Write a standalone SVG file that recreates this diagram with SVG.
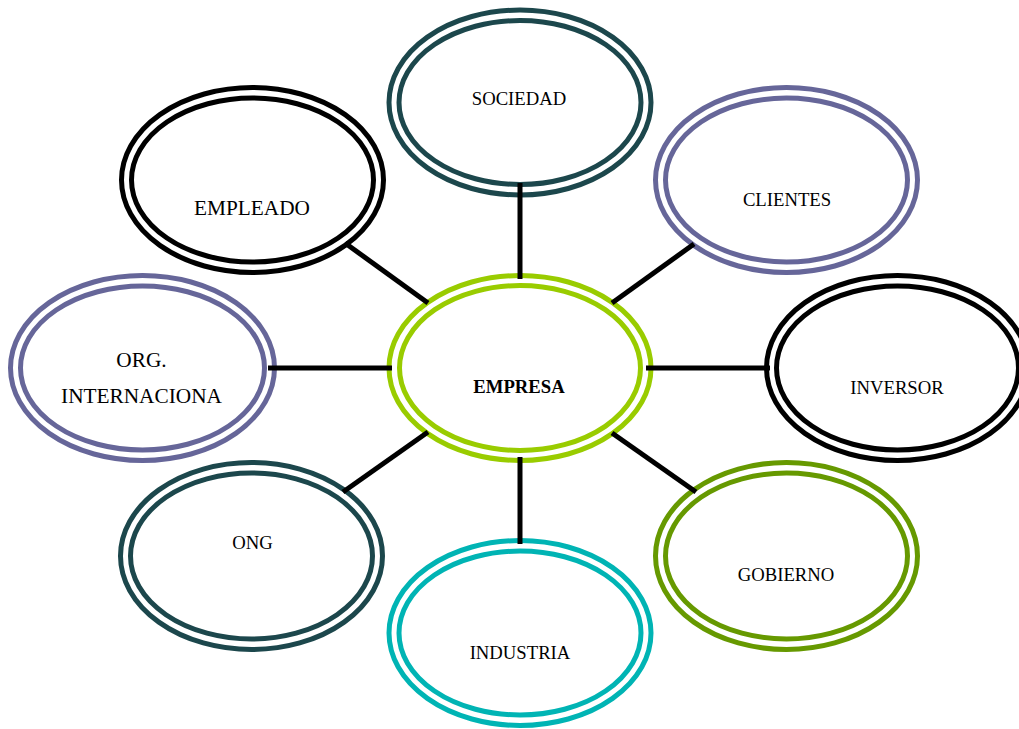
<svg xmlns="http://www.w3.org/2000/svg" width="1019" height="729" viewBox="0 0 1019 729">
<style>
.o{fill:#fff;stroke-width:5}
.i{fill:none;stroke-width:5}
.t{font-family:"Liberation Serif","Times New Roman",serif;font-size:18.7px;fill:#000;text-anchor:middle}
.tl{font-size:21.3px}
.b{font-weight:bold}
.k{stroke:#000}
.dk{stroke:#1C474C}
.pu{stroke:#666699}
.lg{stroke:#99CC00}
.gr{stroke:#669900}
.tq{stroke:#00B4B4}
.c{stroke:#000;stroke-width:5;stroke-linecap:butt;fill:none}
</style>
<rect width="1019" height="729" fill="#fff"/>
<g id="sociedad"><ellipse class="o dk" cx="520" cy="102.5" rx="131" ry="92.5"/><ellipse class="i dk" cx="520" cy="102.5" rx="121" ry="82"/><text class="t" x="519" y="105">SOCIEDAD</text></g>
<g id="empleado"><ellipse class="o k" cx="252.5" cy="180" rx="131" ry="92.5"/><ellipse class="i k" cx="252.5" cy="180" rx="121" ry="82"/><text class="t tl" x="252" y="215">EMPLEADO</text></g>
<g id="clientes"><ellipse class="o pu" cx="786.5" cy="180" rx="131" ry="92.5"/><ellipse class="i pu" cx="786.5" cy="180" rx="121" ry="82"/><text class="t" x="787" y="206">CLIENTES</text></g>
<g id="org"><ellipse class="o pu" cx="142.5" cy="368" rx="132" ry="92.5"/><ellipse class="i pu" cx="142.5" cy="368" rx="122" ry="82"/><text class="t tl" x="141.5" y="367">ORG.</text><text class="t tl" x="141.5" y="403">INTERNACIONA</text></g>
<g id="empresa"><ellipse class="o lg" cx="520" cy="368" rx="131" ry="92.5"/><ellipse class="i lg" cx="520" cy="368" rx="120.5" ry="82.5"/><text class="t b" x="519" y="393">EMPRESA</text></g>
<g id="inversor"><ellipse class="o k" cx="897.5" cy="368" rx="131" ry="92.5"/><ellipse class="i k" cx="897.5" cy="368" rx="121" ry="82"/><text class="t" x="897" y="394">INVERSOR</text></g>
<g id="ong"><ellipse class="o dk" cx="251.5" cy="556" rx="131" ry="93.5"/><ellipse class="i dk" cx="251.5" cy="556" rx="121" ry="83"/><text class="t" x="252.5" y="549">ONG</text></g>
<g id="gobierno"><ellipse class="o gr" cx="786.5" cy="556" rx="131" ry="93.5"/><ellipse class="i gr" cx="786.5" cy="556" rx="121" ry="83"/><text class="t" x="786" y="581">GOBIERNO</text></g>
<g id="industria"><ellipse class="o tq" cx="520" cy="633" rx="131" ry="92.5"/><ellipse class="i tq" cx="520" cy="633" rx="121" ry="82"/><text class="t" x="520" y="659">INDUSTRIA</text></g>
<g id="connectors">
<line class="c" x1="520" y1="183" x2="520" y2="279"/>
<line class="c" x1="345" y1="243" x2="428" y2="303"/>
<line class="c" x1="694" y1="244" x2="612" y2="303"/>
<line class="c" x1="268" y1="368" x2="392" y2="368"/>
<line class="c" x1="646" y1="368" x2="770" y2="368"/>
<line class="c" x1="343" y1="492" x2="428" y2="432"/>
<line class="c" x1="696" y1="492" x2="612" y2="433"/>
<line class="c" x1="520" y1="457" x2="520" y2="544"/>
</g>
</svg>
